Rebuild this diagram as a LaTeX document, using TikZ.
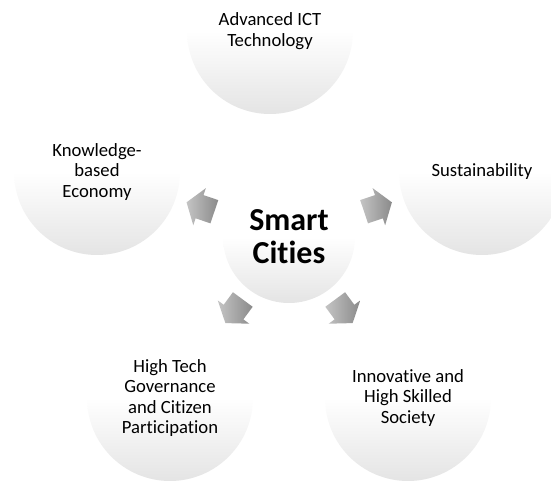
\documentclass[tikz,border=0pt]{standalone}
\usepackage{fontspec}
\setmainfont{Carlito}[Ligatures=NoCommon]
\usetikzlibrary{shapes.arrows,positioning,calc}
\definecolor{fadegray}{RGB}{228,228,228}
\definecolor{arrowlight}{RGB}{196,196,196}
\definecolor{arrowdark}{RGB}{138,138,138}

\begin{document}
\begin{tikzpicture}[x=0.75pt, y=0.75pt,
    bubble/.style={circle, inner sep=0pt, minimum size=124.5pt, align=center,
      top color=white, bottom color=fadegray, middle color=white,
      font=\fontsize{14}{15.4}\selectfont},
    hubbubble/.style={bubble, minimum size=99pt,
      font=\fontsize{24}{24.8}\selectfont\bfseries},
    spoke/.style={single arrow, single arrow tip angle=110,
      single arrow head extend=5.5pt, inner xsep=0pt, inner ysep=9pt,
      minimum height=22pt, left color=arrowlight, right color=arrowdark,
      sloped, allow upside down}]
  \clip (0,0) rectangle (551,480);
  % centre
  \node[hubbubble] (hub) at (289,243) {Smart\\Cities};
  % outer ring
  \node[bubble] (ict)  at (270,449) {Advanced ICT\\Technology};
  \node[bubble] (econ) at (97,308)  {Knowledge-\\based\\Economy};
  \node[bubble] (sust) at (482,308) {Sustainability};
  \node[bubble] (gov)  at (170,82)  {High Tech\\Governance\\and Citizen\\Participation};
  \node[bubble] (soc)  at (408,82)  {Innovative and\\High Skilled\\Society};
  % block arrows, none towards the top
  \foreach \target in {econ,sust,gov,soc}
    \path (hub.center) -- node[spoke, pos=.44] (to-\target) {} (\target.center);
\end{tikzpicture}
\end{document}
